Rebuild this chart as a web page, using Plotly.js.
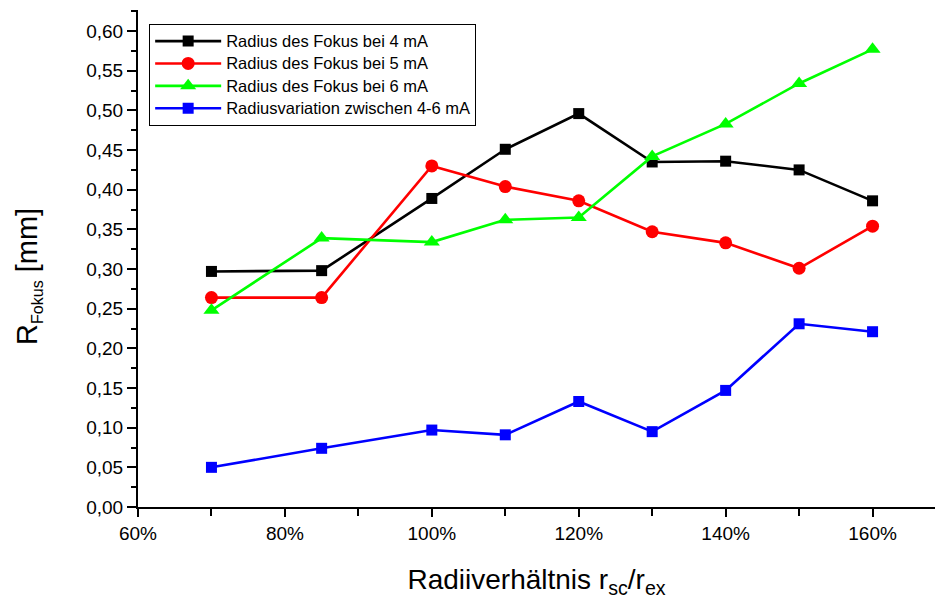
<!DOCTYPE html>
<html>
<head>
<meta charset="utf-8">
<script src="https://cdn.plot.ly/plotly-3.0.1.min.js"></script>
<style>
  html, body { margin: 0; padding: 0; background: #ffffff; }
  #chart { width: 936px; height: 601px; }
</style>
</head>
<body>
<div id="chart"></div>
<script>
// Radius ratio r_sc / r_ex in percent
const ratio = [70, 85, 100, 110, 120, 130, 140, 150, 160];

// Focus radius in mm for each beam current
const radius4mA = [0.297, 0.298, 0.389, 0.451, 0.496, 0.435, 0.436, 0.425, 0.386];
const radius5mA = [0.264, 0.264, 0.430, 0.404, 0.386, 0.347, 0.333, 0.301, 0.354];
const radius6mA = [0.248, 0.339, 0.334, 0.362, 0.365, 0.442, 0.483, 0.534, 0.577];
// Spread of the radius between 4 and 6 mA
const radiusVariation = [0.050, 0.074, 0.097, 0.091, 0.133, 0.095, 0.147, 0.231, 0.221];

const seriesNames = [
  'Radius des Fokus bei 4 mA',
  'Radius des Fokus bei 5 mA',
  'Radius des Fokus bei 6 mA',
  'Radiusvariation zwischen 4-6 mA'
];

const FONT = 'Liberation Sans, Arial, sans-serif';

// legend rows are spaced by the legend font size; the text itself is set larger
function legendLabel(name) {
  return '<span style="font-size:16.5px">' + name + '</span>';
}

function series(y, name, color, symbol, size) {
  return {
    x: ratio,
    y: y,
    name: legendLabel(name),
    type: 'scatter',
    mode: 'lines+markers',
    line: { color: color, width: 2.6 },
    marker: { color: color, symbol: symbol, size: size }
  };
}

const traces = [
  series(radius4mA, seriesNames[0], '#000000', 'square', 11),
  series(radius5mA, seriesNames[1], '#ff0000', 'circle', 13),
  series(radius6mA, seriesNames[2], '#00ff00', 'triangle-up', 14),
  series(radiusVariation, seriesNames[3], '#0000ff', 'square', 11)
];

const layout = {
  width: 936,
  height: 601,
  margin: { l: 138, r: 1, t: 10, b: 94 },
  paper_bgcolor: '#ffffff',
  plot_bgcolor: '#ffffff',
  separators: ',.',
  font: { family: FONT, color: '#000000', size: 19 },
  showlegend: true,
  legend: {
    x: 0.014, y: 0.972, xanchor: 'left', yanchor: 'top',
    bgcolor: '#ffffff', bordercolor: '#000000', borderwidth: 1,
    font: { family: FONT, size: 14.9, color: '#000000' },
    itemwidth: 66,
    entrywidth: 360, entrywidthmode: 'pixels',
    tracegroupgap: 0
  },
  xaxis: {
    range: [60, 168.5],
    tick0: 60, dtick: 20,
    ticksuffix: '%',
    showgrid: false, zeroline: false,
    showline: true, linecolor: '#000000', linewidth: 2,
    ticks: 'outside', ticklen: 8, tickwidth: 2, tickcolor: '#000000',
    minor: { dtick: 10, ticks: 'outside', ticklen: 7, tickwidth: 2, tickcolor: '#000000' },
    tickfont: { family: FONT, size: 19 },
    title: { text: 'Radiiverhältnis r<sub>sc</sub>/r<sub>ex</sub>', font: { family: FONT, size: 28 }, standoff: 27 }
  },
  yaxis: {
    range: [0, 0.6266],
    tick0: 0, dtick: 0.05,
    tickformat: '.2f',
    showgrid: false, zeroline: false,
    showline: true, linecolor: '#000000', linewidth: 2,
    ticks: 'outside', ticklen: 9, tickwidth: 2, tickcolor: '#000000',
    minor: { dtick: 0.025, ticks: 'outside', ticklen: 5, tickwidth: 2, tickcolor: '#000000' },
    tickfont: { family: FONT, size: 19 }
  },
  annotations: [{
    text: 'R<sub><span style="font-size:16px">Fokus</span></sub> [mm]',
    xref: 'paper', yref: 'paper',
    x: 0, y: 0.463,
    xshift: -109,
    xanchor: 'center', yanchor: 'middle',
    textangle: -90,
    showarrow: false,
    font: { family: FONT, size: 29, color: '#000000' }
  }]
};

Plotly.newPlot('chart', traces, layout, { displayModeBar: false, staticPlot: true });
</script>
</body>
</html>
